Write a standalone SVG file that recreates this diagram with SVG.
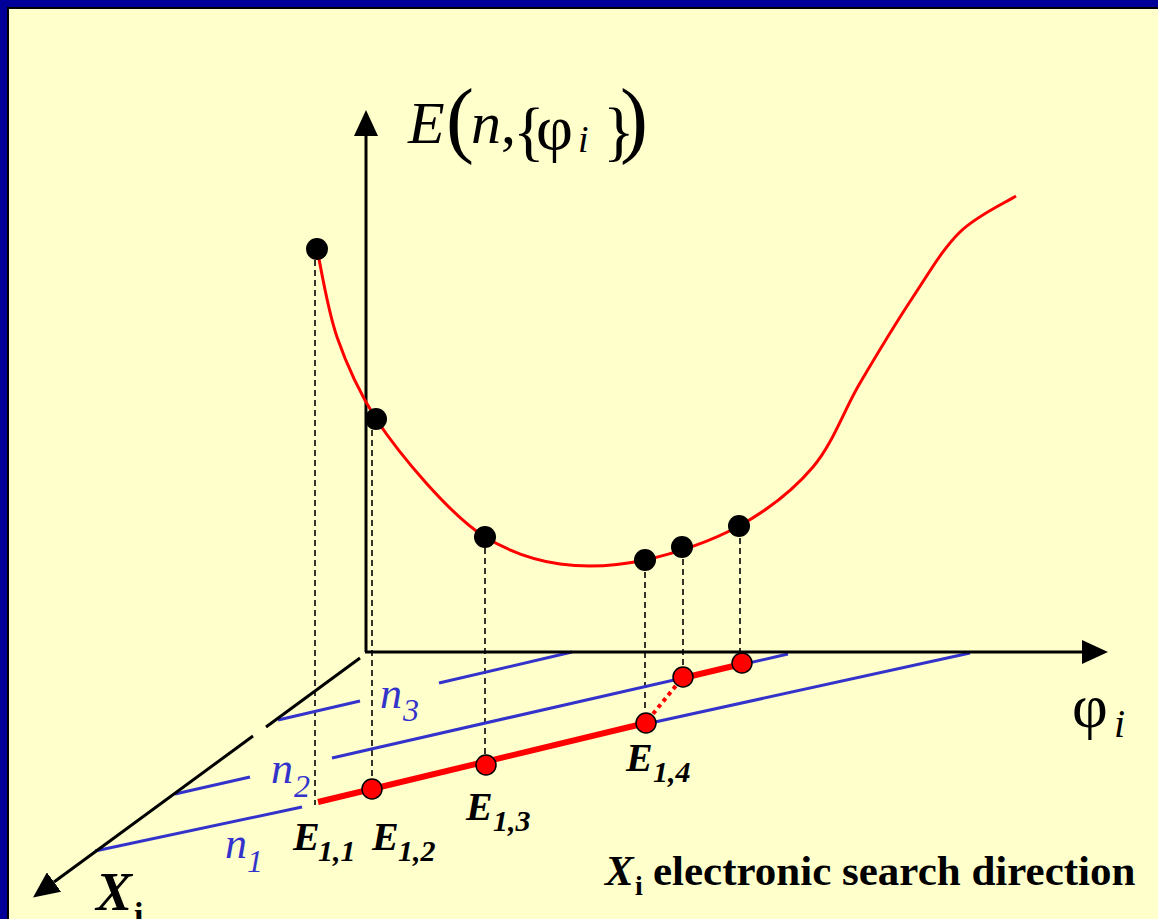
<svg xmlns="http://www.w3.org/2000/svg" width="1158" height="919" viewBox="0 0 1158 919">
<defs>
<marker id="arr" markerUnits="userSpaceOnUse" viewBox="0 0 26 24" refX="0" refY="12" markerWidth="26" markerHeight="24" orient="auto">
<path d="M0,0 L26,12 L0,24 z" fill="#000"/>
</marker>
</defs>
<style>
.axis{stroke:#000;stroke-width:3;fill:none}
.dash{stroke:#000;stroke-width:1.6;stroke-dasharray:6 4;fill:none}
.blue{stroke:#3333CC;stroke-width:3;fill:none}
.red{stroke:#FF0000;stroke-width:6;fill:none}
.curve{stroke:#FF0000;stroke-width:3;fill:none}
.bdot{fill:#000}
.rdot{fill:#FF0000;stroke:#000;stroke-width:1.5}
.ser{font-family:"Liberation Serif","Times New Roman",serif}
.lbE{font-family:"Liberation Serif","Times New Roman",serif;font-weight:bold;font-style:italic;fill:#000}
.lbN{font-family:"Liberation Serif","Times New Roman",serif;font-style:italic;fill:#3333CC}
</style>
<rect x="0" y="0" width="1158" height="919" fill="#000099"/>
<rect x="8" y="8" width="1160" height="920" fill="#FFFFCC" stroke="#000" stroke-width="2"/>

<g id="connectors">
<line class="dash" x1="315" y1="260" x2="315" y2="805"/>
<line class="dash" x1="372" y1="430" x2="372" y2="778"/>
<line class="dash" x1="485" y1="548" x2="485" y2="754"/>
<line class="dash" x1="645" y1="572" x2="645" y2="712"/>
<line class="dash" x1="683" y1="559" x2="683" y2="667"/>
<line class="dash" x1="740" y1="538" x2="740" y2="653"/>
<line class="blue" x1="95" y1="851" x2="302" y2="807"/>
<line class="blue" x1="655" y1="722" x2="970" y2="653"/>
<line class="blue" x1="175" y1="794" x2="250" y2="777"/>
<line class="blue" x1="332" y1="758" x2="788" y2="654"/>
<line class="blue" x1="278" y1="720" x2="360" y2="701"/>
<line class="blue" x1="439" y1="683" x2="572" y2="652"/>
<line class="red" x1="318" y1="802" x2="646" y2="723"/>
<line x1="648" y1="720" x2="683" y2="677" stroke="#FF0000" stroke-width="4" stroke-dasharray="4 4"/>
<line class="red" x1="683" y1="678" x2="742" y2="664"/>
</g>

<g id="axes">
<line class="axis" x1="366" y1="652" x2="366" y2="136" marker-end="url(#arr)"/>
<line class="axis" x1="365" y1="652" x2="1082" y2="652" marker-end="url(#arr)"/>
<line class="axis" x1="360" y1="658" x2="266" y2="727"/>
<line class="axis" x1="253" y1="736" x2="54" y2="882" marker-end="url(#arr)"/>
</g>

<g id="energy-curve">
<path class="curve" d="M317,249 C320.3,263.7 327.2,308.7 337,337 C346.8,365.3 360.5,394.3 376,419 C400,455 450,515 485,537 C506.7,550.2 533.3,560.2 560,564 C586.7,567.8 615.2,566.3 645,560 C674.8,553.7 711,541.5 739,526 C767,510.5 792.8,490.8 813,467 C833.2,443.2 843.3,411.3 860,383 C876.7,354.7 896.3,322.2 913,297 C929.7,271.8 942.8,248.8 960,232 C977.2,215.2 1006.7,202 1016,196"/>
</g>

<g id="curve-points">
<circle id="p1" class="bdot" cx="317" cy="249" r="11"/>
<circle id="p2" class="bdot" cx="376" cy="419" r="11"/>
<circle id="p3" class="bdot" cx="485" cy="537" r="11"/>
<circle id="p4" class="bdot" cx="645" cy="560" r="11"/>
<circle id="p5" class="bdot" cx="682" cy="547" r="11"/>
<circle id="p6" class="bdot" cx="739" cy="526" r="11"/>
</g>

<g id="search-points">
<circle id="e12" class="rdot" cx="372" cy="789" r="10"/>
<circle id="e13" class="rdot" cx="486" cy="765" r="10"/>
<circle id="e14" class="rdot" cx="646" cy="723" r="10"/>
<circle id="e15" class="rdot" cx="683" cy="677" r="10"/>
<circle id="e16" class="rdot" cx="742" cy="663" r="10"/>
</g>

<g id="label-E-axis" class="ser" fill="#000">
<text x="408" y="143" font-size="60" font-style="italic">E</text>
<text x="446" y="147" font-size="84">(</text>
<text x="471" y="143" font-size="60" font-style="italic">n</text>
<text x="501" y="143" font-size="60">,</text>
<text x="513" y="153" font-size="66">{</text>
<text x="536" y="149" font-size="64">φ</text>
<text x="578" y="152" font-size="38" font-style="italic">i</text>
<text x="603" y="153" font-size="66">}</text>
<text x="620" y="147" font-size="84">)</text>
</g>

<g id="label-phi" class="ser" fill="#000">
<text x="1072" y="727" font-size="62">φ</text>
<text x="1114" y="737" font-size="40" font-style="italic">i</text>
</g>

<g id="label-n">
<text class="lbN" x="380" y="708" font-size="44">n</text>
<text class="lbN" x="403" y="721" font-size="32">3</text>
<text class="lbN" x="271" y="783" font-size="44">n</text>
<text class="lbN" x="294" y="797" font-size="32">2</text>
<text class="lbN" x="225" y="858" font-size="44">n</text>
<text class="lbN" x="247" y="872" font-size="32">1</text>
</g>

<g id="label-E">
<text class="lbE" x="293" y="850" font-size="40">E</text>
<text class="lbE" x="318" y="861" font-size="30">1,1</text>
<text class="lbE" x="372" y="850" font-size="40">E</text>
<text class="lbE" x="398" y="861" font-size="30">1,2</text>
<text class="lbE" x="466" y="820" font-size="40">E</text>
<text class="lbE" x="493" y="831" font-size="30">1,3</text>
<text class="lbE" x="626" y="771" font-size="40">E</text>
<text class="lbE" x="653" y="782" font-size="30">1,4</text>
</g>

<g id="label-X">
<text class="lbE" x="96" y="910" font-size="54">X</text>
<text class="ser" x="134" y="926" font-size="34" font-weight="bold" fill="#000">i</text>
</g>

<g id="caption" class="ser" fill="#000" font-weight="bold">
<text x="605" y="885" font-size="43" font-style="italic">X</text>
<text x="635" y="895" font-size="28">i</text>
<text x="653" y="885" font-size="43">electronic search direction</text>
</g>
</svg>
